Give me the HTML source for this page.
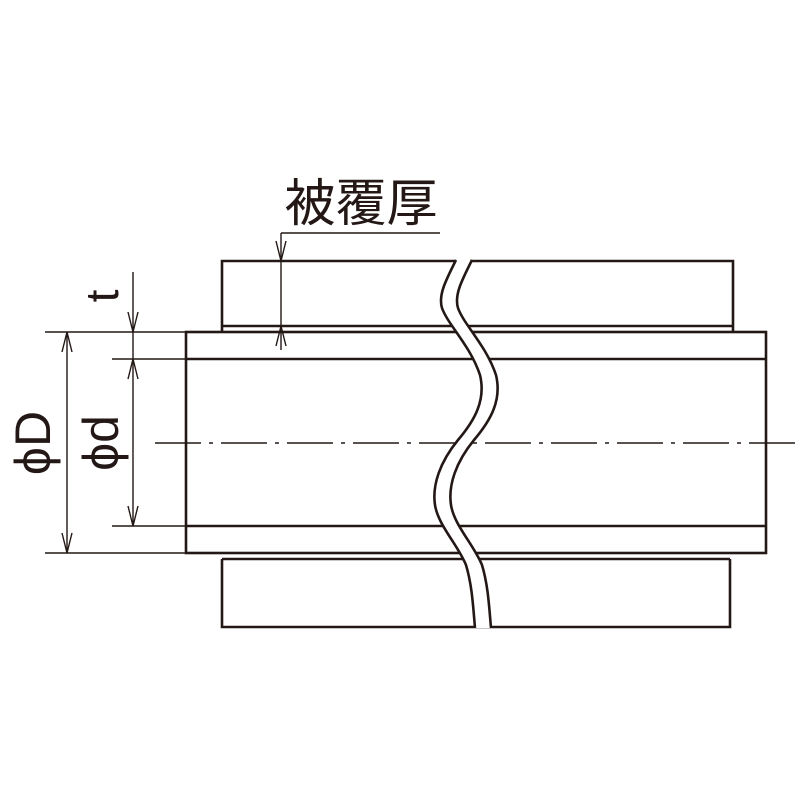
<!DOCTYPE html>
<html><head><meta charset="utf-8"><style>html,body{margin:0;padding:0;background:#fff}svg{display:block}</style></head>
<body>
<svg width="800" height="800" viewBox="0 0 800 800" xmlns="http://www.w3.org/2000/svg">
<g stroke="#231815" fill="none" stroke-width="2.6">
  <polyline points="470,261 733,261 733,332"/>
  <polyline points="456,261 222,261 222,332"/>
  <line x1="222" y1="326" x2="733" y2="326"/>
  <rect x="186" y="332" width="580" height="221"/>
  <line x1="186" y1="359" x2="766" y2="359"/>
  <line x1="186" y1="526" x2="766" y2="526"/>
  <polyline points="222,559 222,627 730,627 730,559"/>
  <line x1="222" y1="559" x2="730" y2="559"/>
</g>
<line x1="155" y1="443" x2="795" y2="443" stroke="#231815" stroke-width="1.6" stroke-dasharray="46,8,4,8"/>
<path d="M456,260 C446,280 438,295 442,308 C448,325 470,345 480,375 C486,400 475,420 458,440 C440,462 432,485 435,505 C438,525 458,545 466,565 C472,585 473,605 475,628 L491,628 C489,605 488,585 482,565 C474,545 454,525 451,505 C448,485 456,462 474,440 C491,420 502,400 496,375 C486,345 464,325 458,308 C454,295 462,280 472,260 Z" fill="#fff" stroke="none"/>
<g stroke="#231815" fill="none" stroke-width="2.6">
  <path d="M456,260 C446,280 438,295 442,308 C448,325 470,345 480,375 C486,400 475,420 458,440 C440,462 432,485 435,505 C438,525 458,545 466,565 C472,585 473,605 475,628"/>
  <path d="M472,260 C462,280 454,295 458,308 C464,325 486,345 496,375 C502,400 491,420 474,440 C456,462 448,485 451,505 C454,525 474,545 482,565 C488,585 489,605 491,628"/>
</g>
<g stroke="#231815" fill="none" stroke-width="1.4">
  <line x1="45" y1="332" x2="186" y2="332"/>
  <line x1="112" y1="359" x2="186" y2="359"/>
  <line x1="112" y1="526" x2="186" y2="526"/>
  <line x1="45" y1="553" x2="186" y2="553"/>
  <line x1="67" y1="332" x2="67" y2="553"/>
  <polyline points="62,352 67,332 72,352"/>
  <polyline points="62,533 67,553 72,533"/>
  <line x1="133" y1="272" x2="133" y2="526"/>
  <polyline points="128,312 133,332 138,312"/>
  <polyline points="128,379 133,359 138,379"/>
  <polyline points="128,506 133,526 138,506"/>
  <line x1="281" y1="233" x2="281" y2="350"/>
  <line x1="281" y1="233" x2="440" y2="233"/>
  <polyline points="276,241 281,261 286,241"/>
  <polyline points="276,346 281,326 286,346"/>
</g>
<g fill="#231815" font-family="'Liberation Sans','Noto Sans CJK JP',sans-serif">
  <text x="361" y="221" font-size="51" text-anchor="middle">被覆厚</text>
  <text transform="translate(118,296) rotate(-90)" font-size="46" text-anchor="middle">t</text>
  <text transform="translate(50,443) rotate(-90)" font-size="50" text-anchor="middle">ϕD</text>
  <text transform="translate(118,443) rotate(-90)" font-size="50" text-anchor="middle">ϕd</text>
</g>
</svg>
</body></html>
